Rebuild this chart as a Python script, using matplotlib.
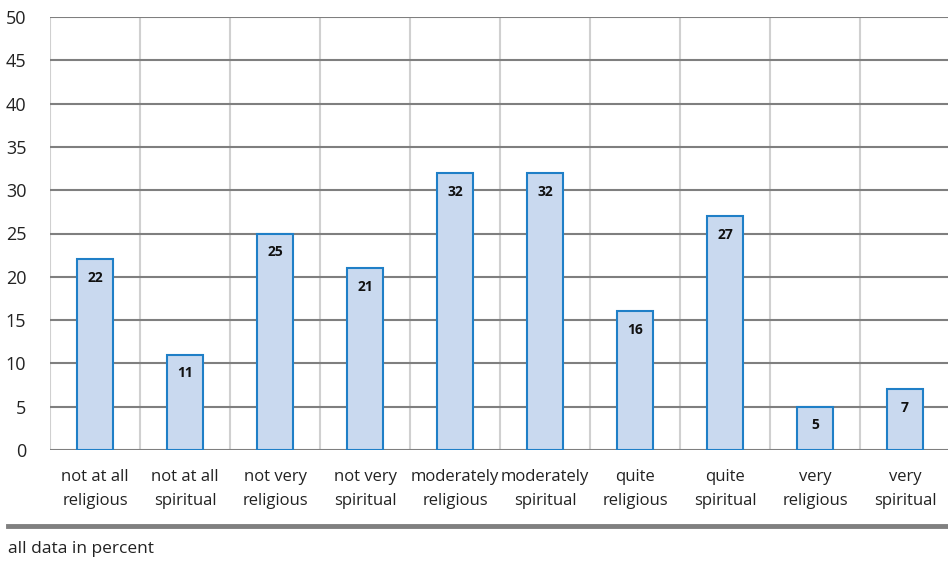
import matplotlib
matplotlib.use("Agg")
import matplotlib.pyplot as plt

plt.rcParams['font.family'] = ['Open Sans', 'DejaVu Sans']

categories = ["not at all\nreligious", "not at all\nspiritual", "not very\nreligious",
              "not very\nspiritual", "moderately\nreligious", "moderately\nspiritual",
              "quite\nreligious", "quite\nspiritual", "very\nreligious", "very\nspiritual"]
values = [22, 11, 25, 21, 32, 32, 16, 27, 5, 7]
yticks = [0, 5, 10, 15, 20, 25, 30, 35, 40, 45, 50]

fig = plt.figure(figsize=(9.48, 5.62), dpi=100)
ax = fig.add_axes([50/948, 1 - 450/562, 900/948, 433/562])
x = list(range(len(values)))
ax.bar(x, values, width=0.41, color="#c9d9ef", edgecolor="#1f7fc7", linewidth=1.5, zorder=3)
for xi, v in zip(x, values):
    ax.text(xi, v - 1.35, str(v), ha="center", va="top", fontsize=10, fontweight="bold",
            color="#111111", zorder=4)
ax.set_xlim(-0.5, len(values) - 0.5)
ax.set_ylim(0, 50)
ax.set_yticks(yticks)
ax.set_xticks(x)
ax.set_xticklabels(categories, fontsize=12, color="#222222", linespacing=1.6)
ax.tick_params(axis="y", labelsize=13, length=0, pad=17, colors="#222222")
ax.tick_params(axis="x", length=0, pad=14)
for yv in yticks:
    ax.axhline(yv, color="#7f7f7f", linewidth=1.5, zorder=2)
for b in [i - 0.5 for i in range(len(values) + 1)]:
    ax.axvline(b, color="#d0d0d0", linewidth=1.5, zorder=1)
for s in ax.spines.values():
    s.set_visible(False)
fig.add_artist(plt.Line2D([8/948, 1], [1 - 526/562] * 2, color="#808080", linewidth=3.5,
                          transform=fig.transFigure))
fig.text(8/948, 1 - 549/562, "all data in percent", fontsize=12.5, va="center", ha="left",
         color="#222222")
fig.savefig("out.png", dpi=100)
